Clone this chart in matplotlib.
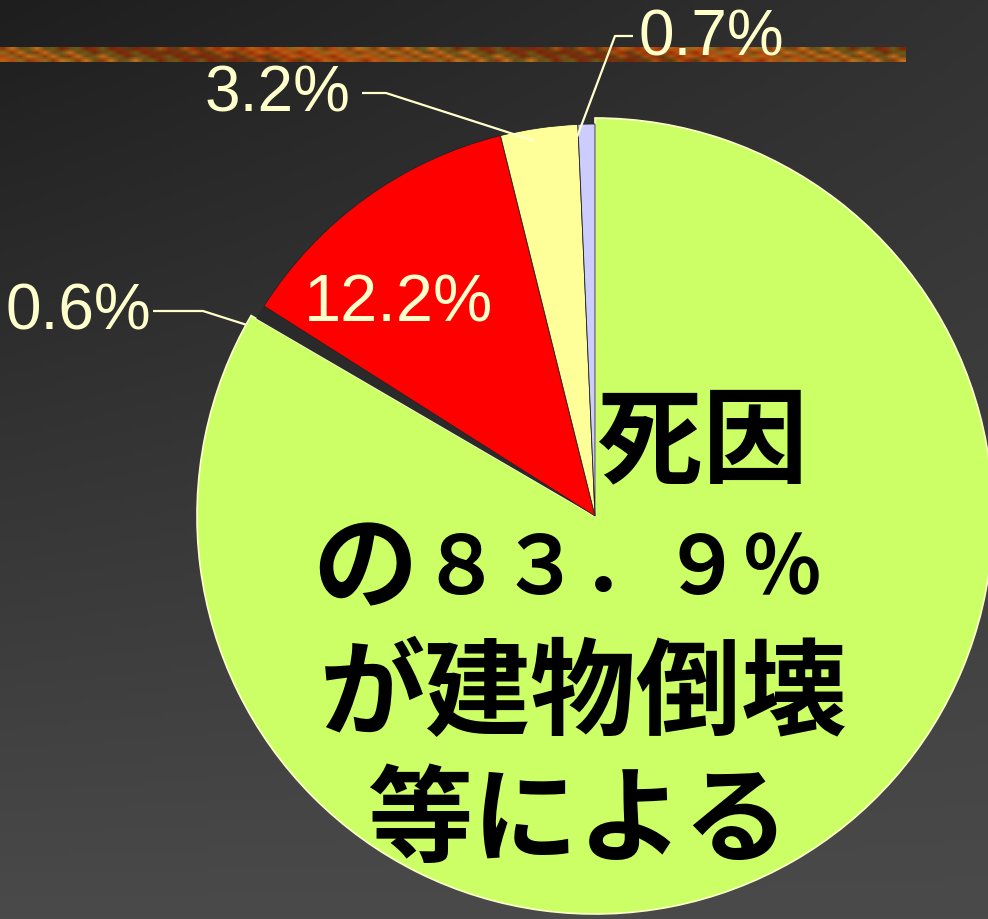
import numpy as np
import matplotlib
matplotlib.use("Agg")
import matplotlib.pyplot as plt

# slice values (%) in drawing order, clockwise from 12 o'clock
shares = [83.9, 0.6, 12.2, 3.2, 0.7]
share_labels = ["", "0.6%", "12.2%", "3.2%", "0.7%"]
slice_colors = ["#ccff66", "#2a2a2a", "#ff0000", "#ffff99", "#ccccff"]

# big caption, one entry per line
caption_lines = ["死因", "の", "８３．９％", "が建物倒壊", "等による"]

W, H = 988, 919


def fy(y):
    # pixel row (from top) -> data y (from bottom)
    return H - y


fig = plt.figure(figsize=(W / 100, H / 100), dpi=100)
ax = fig.add_axes([0, 0, 1, 1])

# dark gradient background
xx, yy = np.meshgrid(np.linspace(0, 1, 200), np.linspace(0, 1, 200))
g = (30 + 44 * yy + 20 * xx * (1 - yy)) / 255.0
bg = np.dstack([g, g, g])
ax.imshow(bg, extent=[0, W, 0, H], origin="upper", zorder=0, aspect="auto")

# decorative textured stripe near the top
stripe_cols = ["#8a3a08", "#a5520e", "#6e4a16", "#b8600f", "#7a2406", "#8c6a1e",
               "#5c3a10", "#c2701a", "#9a2c0a", "#6a5a18", "#b04810", "#7e3010"]
rgb = np.array([matplotlib.colors.to_rgb(c) for c in stripe_cols])
n = len(stripe_cols)
cols = np.arange(110)[None, :]
rows = np.arange(4)[:, None]
idx = (cols * 7 + rows * 5 + (cols // 4) * 3) % n
ax.imshow(rgb[idx], extent=[0, 905, fy(62), fy(47)], origin="upper",
          zorder=1, aspect="auto", interpolation="bilinear")

cx, cy, r = 595, fy(516), 392
wedges, _ = ax.pie(shares, colors=slice_colors, startangle=90, counterclock=False,
                   center=(cx, cy), radius=r, frame=True,
                   wedgeprops=dict(edgecolor="#222222", linewidth=0.6))
for w in wedges:
    w.set_zorder(2)
wedges[0].set_radius(398)
wedges[0].set_edgecolor("#ffffcc")
wedges[0].set_linewidth(1.2)
wedges[1].set_linewidth(0)

cream = "#ffffcc"
lab_kw = dict(color=cream, fontsize=46, family=["Liberation Sans", "DejaVu Sans"],
              va="center", zorder=4)

# outside labels with leader lines: (anchor x, y, ha), leader points
leaders = {
    1: ((5, 313, "left"), [(153, 311), (203, 311), (247, 325)]),
    3: ((350, 95, "right"), [(362, 93), (386, 93), (535, 141)]),
    4: ((638, 39, "left"), [(633, 36), (615, 36), (577, 137)]),
}
for i, (pos, pts) in leaders.items():
    ax.plot([p[0] for p in pts], [fy(p[1]) for p in pts], color=cream,
            lw=1.6, zorder=3, solid_capstyle="butt")
    ax.text(pos[0], fy(pos[1]), share_labels[i], ha=pos[2], **lab_kw)

# label inside the red slice
ax.text(398, fy(305), share_labels[2], ha="center", fontsize=48,
        **{k: v for k, v in lab_kw.items() if k != "fontsize"})

jp = ["Noto Sans CJK JP", "DejaVu Sans"]
jp_kw = dict(color="black", family=jp, fontweight="bold",
             ha="center", va="center", zorder=5)
ax.text(702, fy(443), caption_lines[0], fontsize=76, **jp_kw)
ax.text(365, fy(570), caption_lines[1], fontsize=76, **jp_kw)
ax.text(622, fy(570), caption_lines[2], fontsize=58, **jp_kw)
ax.text(584, fy(696), caption_lines[3], fontsize=76, **jp_kw)
ax.text(578, fy(823), caption_lines[4], fontsize=76, **jp_kw)

ax.set_xlim(0, W)
ax.set_ylim(0, H)
ax.set_aspect("auto")
ax.axis("off")

fig.savefig("out.png", dpi=100)
